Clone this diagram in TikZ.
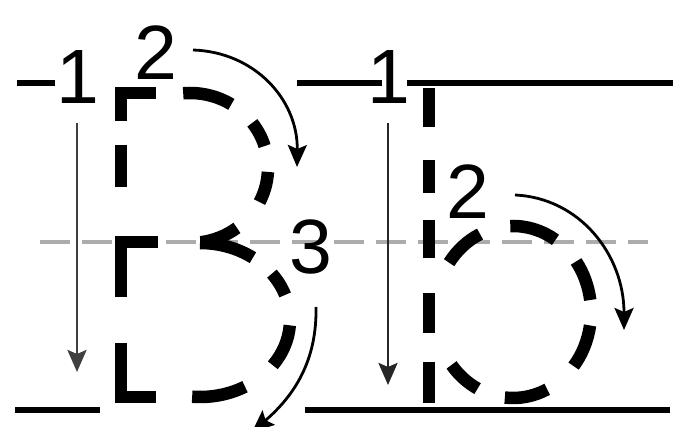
\documentclass[tikz,border=0pt]{standalone}
\usepackage{fontspec}
\setmainfont{Liberation Sans}
\usetikzlibrary{arrows.meta}

\begin{document}
\begin{tikzpicture}[x=1pt, y=-1pt, every node/.style={font=\fontsize{77}{77}\selectfont, inner sep=0pt},
	ink/.style={line width=12.5pt, line join=miter},
	rule/.style={line width=5.5pt},
	midrule/.style={line width=4pt, gray!65, dash pattern=on 30pt off 12pt},
	stroke/.style={-{Stealth[length=22pt,width=19pt,inset=4pt]}, line width=2.8pt}]
	\useasboundingbox (0,0) rectangle (679,427);
	% guide lines
	\draw[midrule] (40,242) -- (648,242);
	\draw[rule] (17,83) -- (55,83);
	\draw[rule] (297,83) -- (382,83);
	\draw[rule] (407,83) -- (673,83);
	\draw[rule] (15,410) -- (100,410);
	\draw[rule] (305,410) -- (670,410);
	% B
	\coordinate (up) at (190,168);
	\coordinate (low) at (200,320);
	\draw[ink] (121,121) -- (121,93) -- (156,93);
	\draw[ink] (121,145) -- (121,187);
	\draw[ink] (121,297) -- (121,242) -- (158,242);
	\draw[ink] (121,343) -- (121,397) -- (156,397);
	\foreach \s/\e in {-95/-58, -37/-17, 3/27, 53/82}
		\draw[ink] ([shift={(\s:78 and 75)}]up) arc[start angle=\s, end angle=\e, x radius=78, y radius=75];
	\foreach \s/\e in {-90/-54, -37/-19, 4/36, 60/95}
		\draw[ink] ([shift={(\s:90 and 77)}]low) arc[start angle=\s, end angle=\e, x radius=90, y radius=77];
	% b
	\coordinate (bowl) at (513,312);
	\foreach \s/\e in {88/127, 160/193, 220/258, 293/333, 362/403}
		\draw[ink] (429,\s) -- (429,\e);
	\foreach \s/\e in {-145/-115, -92/-57, -36/-8, 9/39, 64/96, 117/142}
		\draw[ink] ([shift={(\s:78 and 86)}]bowl) arc[start angle=\s, end angle=\e, x radius=78, y radius=86];
	% labels and strokes
	\node (one) at (78,77) {1};
	\node (two) at (156,53) {2};
	\node (three) at (311,247) {3};
	\node (oneb) at (389,77) {1};
	\node (twob) at (468,192) {2};
	\coordinate (e1) at (77,372);
	\coordinate (e2) at (297,167);
	\coordinate (e3) at (252,432);
	\coordinate (e4) at (388,385);
	\coordinate (e5) at (624,330);
	\draw[stroke, black!75] (77,123) -- (e1);
	\draw[stroke] (193,50) .. controls (255,52) and (298,100) .. (e2);
	\draw[stroke] (316,307) .. controls (317,360) and (295,395) .. (e3);
	\draw[stroke, black!85] (388,123) -- (e4);
	\draw[stroke] (515,195) .. controls (580,198) and (624,255) .. (e5);
\end{tikzpicture}
\end{document}
